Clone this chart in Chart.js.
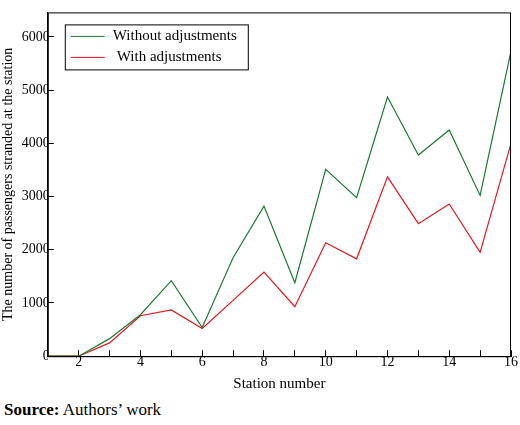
<!DOCTYPE html>
<html><head><meta charset="utf-8">
<script src="https://cdn.jsdelivr.net/npm/chart.js@4"></script>
<style>body{margin:0;background:#fff;font-family:"Liberation Serif",serif}
#w{position:absolute;left:0;top:0;width:522px;height:395px}
#src{position:absolute;left:4px;top:400px;font-size:17px}</style></head>
<body><div id="w"><canvas id="c"></canvas></div><div id="src"><b>Source:</b> Authors’ work</div>
<script>
const stations=[1,2,3,4,5,6,7,8,9,10,11,12,13,14,15,16];
const without=[0,0,330,780,1420,540,1850,2820,1380,3510,2980,4870,3780,4250,3020,5730];
const withAdj=[0,0,250,760,870,520,1050,1580,930,2130,1830,3370,2490,2860,1950,4000];
const labels=["Without adjustments","With adjustments"];
const colors=["#1a7a33","#e8141c"];
const F="Liberation Serif";
const legendPlugin={id:'lg',afterDraw(ch){const c=ch.ctx,a=ch.chartArea;const x=a.left+17,y=a.top+12;
c.save();c.strokeStyle='#000';c.lineWidth=1;c.strokeRect(x+.5,y+.5,183,45);
c.font='15px "'+F+'"';c.textBaseline='middle';
ch.data.datasets.forEach((d,i)=>{const yy=y+12+i*21;c.strokeStyle=d.borderColor;c.beginPath();c.moveTo(x+6,yy);c.lineTo(x+40,yy);c.stroke();c.fillStyle='#000';c.fillText(d.label,x+48+(i?4:0),yy);});
c.strokeStyle='#000';c.strokeRect(a.left+.5,a.top+.5,a.right-a.left-1,a.bottom-a.top);c.restore();}};
new Chart(document.getElementById('c'),{type:'line',
data:{datasets:[{label:labels[0],data:stations.map((s,i)=>({x:s,y:without[i]})),borderColor:colors[0]},
{label:labels[1],data:stations.map((s,i)=>({x:s,y:withAdj[i]})),borderColor:colors[1]}]},
options:{responsive:true,maintainAspectRatio:false,animation:false,
layout:{padding:{top:2,right:0,left:0}},
elements:{point:{radius:0},line:{borderWidth:1.2,tension:0}},
plugins:{legend:{display:false},tooltip:{enabled:false}},
scales:{x:{type:'linear',min:1,max:16,grid:{drawOnChartArea:false,tickLength:-6,color:'#000'},border:{color:'#000'},
ticks:{stepSize:1,color:'#000',font:{family:F,size:14},padding:4,maxRotation:0,callback:v=>v%2===0?String(v):''},
title:{display:true,text:'Station number',color:'#000',font:{family:F,size:15},padding:{top:0,bottom:2}}},
y:{min:0,max:6460,grid:{drawOnChartArea:false,tickLength:-6,color:'#000'},border:{color:'#000'},
afterBuildTicks:s=>{s.ticks=[0,1000,2000,3000,4000,5000,6000].map(v=>({value:v}));},
ticks:{color:'#000',font:{family:F,size:14},padding:4,callback:v=>String(v)},
title:{display:true,text:'The number of passengers stranded at the station',color:'#000',font:{family:F,size:14},padding:{top:0,bottom:1}}}}},
plugins:[legendPlugin]});
</script></body></html>
